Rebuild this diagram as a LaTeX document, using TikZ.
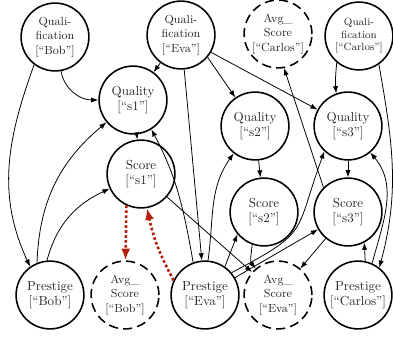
\documentclass[tikz,border=0pt]{standalone}
\usepackage{amsmath}
\usepackage{tikz}
\usepackage{xcolor}
\usetikzlibrary{arrows.meta}
\definecolor{evidred}{RGB}{180,30,10}

\tikzset{
  var/.style={draw=black, very thick, circle, minimum size=52pt, inner sep=0pt, align=center, text=black!85},
  qual/.style={var, font=\small},
  avg/.style={var, font=\small, dash pattern=on 7pt off 4pt},
  dep/.style={-{Latex[length=5.5pt,width=4pt]}, semithick},
  infl/.style={-{Latex[length=9pt,width=7pt]}, draw=evidred, line width=2pt, dash pattern=on 2pt off 1.8pt},
}

\begin{document}
\begin{tikzpicture}[x=0.767pt, y=-0.767pt]
\useasboundingbox (0,0) rectangle (393,339);
% top row
\node [qual] (qbob) at (55,37) {Quali-\\fication\\{[}``Bob'']};
\node [qual] (qeva) at (181,35) {Quali-\\fication\\{[}``Eva'']};
\node [avg] (acarlos) at (278,34) {Avg\_\\Score\\{[}``Carlos'']};
\node [var, font=\footnotesize] (qcarlos) at (359,36) {Quali-\\fication\\{[}``Carlos'']};
% submissions
\node [var] (qs1) at (133,100) {Quality\\{[}``s1'']};
\node [var] (qs2) at (255,126) {Quality\\{[}``s2'']};
\node [var] (qs3) at (348,126) {Quality\\{[}``s3'']};
\node [var] (ss1) at (141,174) {Score\\{[}``s1'']};
\node [var] (ss2) at (264,212) {Score\\{[}``s2'']};
\node [var] (ss3) at (348,212) {Score\\{[}``s3'']};
% bottom row
\node [var] (pbob) at (50,295) {Prestige\\{[}``Bob'']};
\node [avg] (abob) at (125,295) {Avg\_\\Score\\{[}``Bob'']};
\node [var] (peva) at (205,295) {Prestige\\{[}``Eva'']};
\node [avg] (aeva) at (278,295) {Avg\_\\Score\\{[}``Eva'']};
\node [var] (pcarlos) at (358,295) {Prestige\\{[}``Carlos'']};

\draw [dep] (qbob.-80) to[out=-80, in=180] (qs1.180);
\draw [dep] (qbob.-127) to[out=-110, in=115] (pbob.125);
\draw [dep] (qeva) -- (qs1);
\draw [dep] (qeva.-40) -- (qs2);
\draw [dep] (qeva.-30) -- (qs3);
\draw [dep] (qeva) -- (peva);
\draw [dep] (qcarlos.-130) to[out=-95, in=95] (qs3.110);
\draw [dep] (qcarlos.-55) to[out=-80, in=75] (pcarlos.52);
\draw [dep] (qs1) -- (ss1);
\draw [dep] (qs2) -- (ss2);
\draw [dep] (qs3) -- (ss3);
\draw [dep] (pbob.112) to[out=88, in=-140] (qs1.-140);
\draw [dep] (pbob.95) to[out=75, in=-155] (ss1.-155);
\draw [dep] (peva.110) to[out=100, in=-62] (qs1.-58);
\draw [dep] (peva.85) to[out=82, in=-125] (qs2.-128);
\draw [dep] (peva.55) -- (ss2.-140);
\draw [dep] (peva) -- (ss3);
\draw [dep] (peva.40) to[out=28, in=-110, looseness=1.5] (qs3.-133);
\draw [dep] (pcarlos.66) to[out=75, in=-50] (qs3.-50);
\draw [dep] (pcarlos.78) -- (ss3.-62);
\draw [dep] (ss1) -- (aeva);
\draw [dep] (ss2.-110) to[out=-95, in=130] (aeva.130);
\draw [dep] (ss3) -- (aeva);
\draw [dep] (ss3.135) -- (acarlos.-80);
% highlighted
\draw [infl] (ss1.-115) -- (abob);
\draw [infl] (peva.155) to[bend left=8] (ss1.-80);
\end{tikzpicture}
\end{document}
